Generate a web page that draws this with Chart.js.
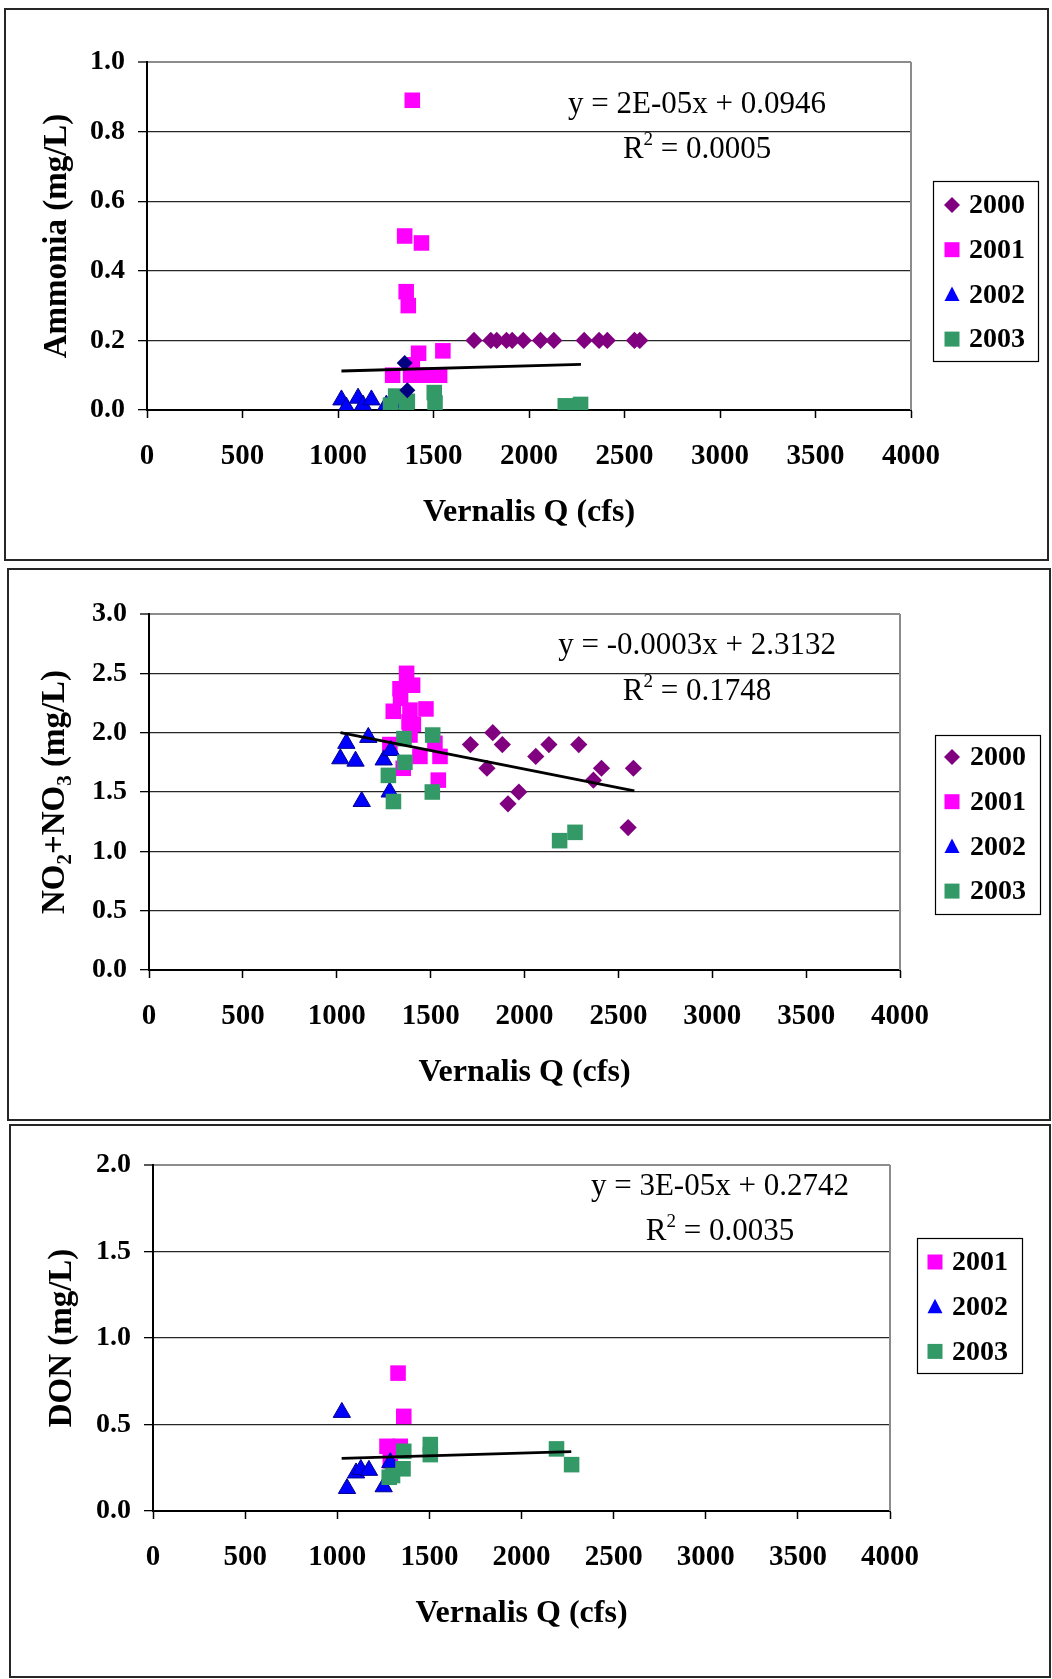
<!DOCTYPE html>
<html><head><meta charset="utf-8">
<script src="https://cdn.jsdelivr.net/npm/chart.js@4.4.1/dist/chart.umd.min.js"></script>
<style>
html,body{margin:0;padding:0;background:#fff;}
body{width:1052px;height:1679px;position:relative;overflow:hidden;}
canvas{position:absolute;left:0;}
.panel{position:absolute;border:2px solid #262626;box-sizing:border-box;pointer-events:none;}
</style></head><body>
<canvas id="c1" width="1052" height="553" style="top:8px;width:1052px;height:553px"></canvas>
<canvas id="c2" width="1052" height="553" style="top:568px;width:1052px;height:553px"></canvas>
<canvas id="c3" width="1052" height="554" style="top:1124px;width:1052px;height:554px"></canvas>
<div class="panel" style="left:4px;top:8px;width:1045px;height:553px"></div>
<div class="panel" style="left:7px;top:568px;width:1044px;height:553px"></div>
<div class="panel" style="left:9px;top:1124px;width:1042px;height:554px"></div>
<script>
// ---------- DATA ----------
const xTicks = [0, 500, 1000, 1500, 2000, 2500, 3000, 3500, 4000];
const xTitle = 'Vernalis Q (cfs)';

// Chart 1: Ammonia
const nh3_2000_x = [1712, 1800, 1831, 1882, 1912, 1970, 2060, 2130, 2289, 2367, 2410, 2552, 2580];
const nh3_2000_y = [0.2, 0.2, 0.2, 0.2, 0.2, 0.2, 0.2, 0.2, 0.2, 0.2, 0.2, 0.2, 0.2];
const nh3_extra_x = [1349, 1363];
const nh3_extra_y = [0.135, 0.057];
const nh3_2001_x = [1389, 1349, 1437, 1357, 1368, 1422, 1549, 1389, 1286, 1380, 1427, 1480, 1532];
const nh3_2001_y = [0.89, 0.50, 0.48, 0.34, 0.30, 0.163, 0.17, 0.13, 0.10, 0.10, 0.10, 0.10, 0.10];
const nh3_2002_x = [1018, 1044, 1105, 1131, 1175, 1253, 1260, 1288];
const nh3_2002_y = [0.029, 0.008, 0.034, 0.014, 0.029, 0.014, 0.0, 0.02];
const nh3_2003_x = [1275, 1302, 1358, 1363, 1504, 1508, 2190, 2270];
const nh3_2003_y = [0.014, 0.04, 0.01, 0.025, 0.05, 0.02, 0.012, 0.016];
const nh3_trend_x = [1018, 2272];
const nh3_trend_y = [0.112, 0.131];

// Chart 2: NO2+NO3
const no_2000_x = [1712, 1800, 1831, 1882, 1912, 1970, 2060, 2130, 2289, 2367, 2410, 2552, 2580];
const no_2000_y = [1.90, 1.70, 2.00, 1.90, 1.40, 1.50, 1.80, 1.90, 1.90, 1.60, 1.70, 1.20, 1.70];
const no_2001_x = [1372, 1404, 1337, 1340, 1301, 1475, 1390, 1408, 1385, 1390, 1283, 1523, 1443, 1550, 1354, 1541];
const no_2001_y = [2.50, 2.40, 2.37, 2.29, 2.18, 2.20, 2.19, 2.07, 2.09, 1.98, 1.90, 1.91, 1.80, 1.80, 1.70, 1.60];
const no_2002_x = [1019, 1051, 1100, 1133, 1168, 1250, 1288, 1282];
const no_2002_y = [1.78, 1.91, 1.76, 1.42, 1.96, 1.77, 1.85, 1.50];
const no_2003_x = [1358, 1511, 1363, 1275, 1509, 1302, 2187, 2269];
const no_2003_y = [1.95, 1.98, 1.75, 1.64, 1.50, 1.42, 1.09, 1.16];
const no_trend_x = [1020, 2585];
const no_trend_y = [2.00, 1.51];

// Chart 3: DON
const don_2001_x = [1330, 1361, 1270, 1342, 1288];
const don_2001_y = [0.797, 0.547, 0.374, 0.374, 0.29];
const don_2002_x = [1025, 1053, 1102, 1128, 1172, 1252, 1288];
const don_2002_y = [0.57, 0.13, 0.22, 0.24, 0.235, 0.14, 0.28];
const don_2003_x = [1361, 1505, 1505, 2190, 2272, 1357, 1282, 1300];
const don_2003_y = [0.345, 0.384, 0.326, 0.359, 0.268, 0.244, 0.195, 0.205];
const don_trend_x = [1024, 2270];
const don_trend_y = [0.304, 0.343];

// ---------- STYLE ----------
const FONT = "'Liberation Serif', 'Times New Roman', serif";
const STYLE = {
  '2000': {shape: 'rectRot', color: '#800080', r: 8.6},
  '2001': {shape: 'rect', color: '#FF00FF', r: 11},
  '2002': {shape: 'triangle', color: '#0000FF', r: 10, border: '#00008B', bw: 1},
  '2003': {shape: 'rect', color: '#339966', r: 11}
};
function pts(xs, ys) { return xs.map((x, i) => ({x: x, y: ys[i]})); }

function drawRich(ctx, segs, cx, cy) {
  let total = 0;
  segs.forEach(s => { ctx.font = (s.bold ? 'bold ' : '') + s.size + 'px ' + FONT; s.w = ctx.measureText(s.t).width; total += s.w; });
  let x = cx - total / 2;
  ctx.textAlign = 'left';
  ctx.textBaseline = 'alphabetic';
  segs.forEach(s => {
    ctx.font = (s.bold ? 'bold ' : '') + s.size + 'px ' + FONT;
    ctx.fillText(s.t, x, cy + (s.dy || 0));
    x += s.w;
  });
}

function drawMarker(ctx, shape, color, x, y) {
  ctx.fillStyle = color;
  ctx.beginPath();
  if (shape === 'rectRot') {
    ctx.moveTo(x - 8, y); ctx.lineTo(x, y - 8); ctx.lineTo(x + 8, y); ctx.lineTo(x, y + 8);
  } else if (shape === 'rect') {
    ctx.rect(x - 7.5, y - 7.5, 15, 15);
  } else {
    ctx.moveTo(x, y - 8); ctx.lineTo(x + 7.5, y + 6.5); ctx.lineTo(x - 7.5, y + 6.5);
  }
  ctx.closePath();
  ctx.fill();
}

function makeChart(id, o) {
  const datasets = [];
  o.series.forEach((s, idx) => {
    const st = STYLE[s.label];
    datasets.push({
      label: s.label, data: pts(s.x, s.y), showLine: false,
      pointStyle: st.shape, pointRadius: st.r, pointHoverRadius: st.r,
      pointBackgroundColor: st.color, pointBorderColor: st.border || st.color,
      pointBorderWidth: st.bw || 0, order: 10 - idx
    });
  });
  if (o.extra) {
    datasets.push({label: '', data: pts(o.extra.x, o.extra.y), showLine: false, pointStyle: 'rectRot',
      pointRadius: 8, pointBackgroundColor: '#000080', pointBorderWidth: 0, order: 1});
  }
  datasets.push({label: '', data: pts(o.trend.x, o.trend.y), showLine: true, borderColor: '#000',
    borderWidth: 2.8, pointRadius: 0, fill: false, order: 0});

  const plugin = {
    id: 'deco' + id,
    beforeDatasetsDraw(chart) {
      const ctx = chart.ctx, a = chart.chartArea;
      ctx.save();
      ctx.strokeStyle = '#8c8c8c'; ctx.lineWidth = 2;
      ctx.beginPath(); ctx.moveTo(a.right, a.top); ctx.lineTo(a.right, a.bottom); ctx.stroke();
      ctx.restore();
    },
    afterDraw(chart) {
      const ctx = chart.ctx, a = chart.chartArea;
      const xs = chart.scales.x, ys = chart.scales.y;
      ctx.save();
      ctx.fillStyle = '#000';
      // equation
      const ex = xs.getPixelForValue(o.eq.x);
      drawRich(ctx, [{t: o.eq.line1, size: 31}], ex, ys.getPixelForValue(o.eq.y1) + 10);
      drawRich(ctx, [{t: 'R', size: 31}, {t: '2', size: 19, dy: -13}, {t: ' = ' + o.eq.r2, size: 31}], ex, ys.getPixelForValue(o.eq.y2) + 10);
      // x title
      drawRich(ctx, [{t: xTitle, size: 32, bold: true}], (a.left + a.right) / 2, a.bottom + 111);
      // y title
      ctx.save();
      ctx.translate(a.left - o.yTitleOff, (a.top + a.bottom) / 2);
      ctx.rotate(-Math.PI / 2);
      ctx.fillStyle = '#000';
      drawRich(ctx, o.yTitle, 0, 10);
      ctx.restore();
      // legend
      const L = o.legend;
      ctx.fillStyle = '#fff';
      ctx.fillRect(L.x1, L.y1, L.x2 - L.x1, L.y2 - L.y1);
      ctx.strokeStyle = '#000'; ctx.lineWidth = 1.2;
      ctx.strokeRect(L.x1 + 0.5, L.y1 + 0.5, L.x2 - L.x1, L.y2 - L.y1);
      o.series.forEach((s, i) => {
        const cy = L.y1 + L.first + i * L.step;
        const st = STYLE[s.label];
        drawMarker(ctx, st.shape, st.color, L.mx, cy);
        ctx.fillStyle = '#000';
        ctx.font = 'bold 28px ' + FONT;
        ctx.textAlign = 'left'; ctx.textBaseline = 'middle';
        ctx.fillText(s.label, L.tx, cy + 1);
      });
      ctx.restore();
    }
  };

  const canvas = document.getElementById(id);
  const H = canvas.height;
  return new Chart(canvas, {
    type: 'scatter',
    data: {datasets: datasets},
    plugins: [plugin],
    options: {
      responsive: false, animation: false, devicePixelRatio: 1, events: [],
      layout: {autoPadding: false, padding: {left: 0, top: o.top, right: 1052 - o.right, bottom: H - o.bottom - 60}},
      plugins: {legend: {display: false}, tooltip: {enabled: false}},
      scales: {
        x: {
          type: 'linear', position: 'bottom', min: xTicks[0], max: xTicks[xTicks.length - 1],
          afterBuildTicks: s => { s.ticks = xTicks.map(v => ({value: v})); },
          ticks: {color: '#000', font: {family: FONT, size: 29, weight: 'bold'}, padding: 21, maxRotation: 0, autoSkip: false,
                  callback: v => String(v)},
          grid: {drawOnChartArea: false, drawTicks: true, tickLength: 8, tickColor: '#000', tickWidth: 1.5},
          border: {display: true, color: '#000', width: 2},
          afterFit: s => { s.height = 60; }
        },
        y: {
          type: 'linear', min: 0, max: o.yTicks[o.yTicks.length - 1],
          afterBuildTicks: s => { s.ticks = o.yTicks.map(v => ({value: v})); },
          ticks: {color: '#000', font: {family: FONT, size: 28, weight: 'bold'}, padding: 13, autoSkip: false,
                  callback: v => Number(v).toFixed(1)},
          grid: {
            color: c => (c.tick && Math.abs(c.tick.value - o.yTicks[o.yTicks.length - 1]) < 1e-9) ? '#8c8c8c' : '#262626',
            lineWidth: c => (c.tick && Math.abs(c.tick.value - o.yTicks[o.yTicks.length - 1]) < 1e-9) ? 2 : 1.3,
            tickLength: 9, tickColor: '#000', tickWidth: 1.3, drawTicks: true
          },
          border: {display: true, color: '#000', width: 2},
          afterFit: s => { s.width = o.left; }
        }
      }
    }
  });
}

makeChart('c1', {
  left: 147, right: 911, top: 54, bottom: 402,
  yTicks: [0, 0.2, 0.4, 0.6, 0.8, 1.0],
  series: [
    {label: '2000', x: nh3_2000_x, y: nh3_2000_y},
    {label: '2001', x: nh3_2001_x, y: nh3_2001_y},
    {label: '2002', x: nh3_2002_x, y: nh3_2002_y},
    {label: '2003', x: nh3_2003_x, y: nh3_2003_y}
  ],
  extra: {x: nh3_extra_x, y: nh3_extra_y},
  trend: {x: nh3_trend_x, y: nh3_trend_y},
  eq: {x: 2880, y1: 0.881, y2: 0.752, line1: 'y = 2E-05x + 0.0946', r2: '0.0005'},
  yTitle: [{t: 'Ammonia (mg/L)', size: 33, bold: true}], yTitleOff: 91,
  legend: {x1: 933, y1: 173, x2: 1038, y2: 353, first: 24, step: 44.7, mx: 952, tx: 969}
});
makeChart('c2', {
  left: 149, right: 900, top: 46, bottom: 402,
  yTicks: [0, 0.5, 1.0, 1.5, 2.0, 2.5, 3.0],
  series: [
    {label: '2000', x: no_2000_x, y: no_2000_y},
    {label: '2001', x: no_2001_x, y: no_2001_y},
    {label: '2002', x: no_2002_x, y: no_2002_y},
    {label: '2003', x: no_2003_x, y: no_2003_y}
  ],
  trend: {x: no_trend_x, y: no_trend_y},
  eq: {x: 2919, y1: 2.749, y2: 2.361, line1: 'y = -0.0003x + 2.3132', r2: '0.1748'},
  yTitle: [{t: 'NO', size: 33, bold: true}, {t: '2', size: 21, bold: true, dy: 7}, {t: '+NO', size: 33, bold: true},
           {t: '3', size: 21, bold: true, dy: 7}, {t: ' (mg/L)', size: 33, bold: true}], yTitleOff: 95,
  legend: {x1: 935, y1: 167, x2: 1040, y2: 346, first: 22, step: 44.7, mx: 952, tx: 970}
});
makeChart('c3', {
  left: 153, right: 890, top: 41, bottom: 387,
  yTicks: [0, 0.5, 1.0, 1.5, 2.0],
  series: [
    {label: '2001', x: don_2001_x, y: don_2001_y},
    {label: '2002', x: don_2002_x, y: don_2002_y},
    {label: '2003', x: don_2003_x, y: don_2003_y}
  ],
  trend: {x: don_trend_x, y: don_trend_y},
  eq: {x: 3077, y1: 1.884, y2: 1.624, line1: 'y = 3E-05x + 0.2742', r2: '0.0035'},
  yTitle: [{t: 'DON (mg/L)', size: 33, bold: true}], yTitleOff: 92,
  legend: {x1: 917, y1: 114, x2: 1022, y2: 249, first: 24, step: 44.7, mx: 935, tx: 952}
});
</script>
</body></html>
